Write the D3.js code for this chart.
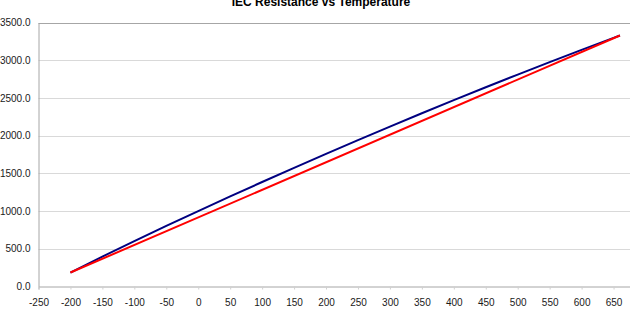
<!DOCTYPE html>
<html><head><meta charset="utf-8">
<script src="https://cdn.jsdelivr.net/npm/d3@7"></script>
<style>html,body{margin:0;padding:0;background:#fff;overflow:hidden}</style>
</head><body>
<svg id="c" width="630" height="324"></svg>
<script>
const title = "IEC Resistance vs Temperature";
const temps = [-200,-150,-100,-50,0,50,100,150,200,250,300,350,400,450,500,550,600,650,660];
const iecValues = [185.2,397.2,602.6,803.1,1000.0,1194.0,1385.1,1573.3,1758.6,1941.0,2120.5,2297.2,2470.9,2641.8,2809.8,2974.9,3137.1,3296.4,3327.9];
const linearTemps = [-200,660];
const linearValues = [185.2,3327.9];
const xTicks = [-250,-200,-150,-100,-50,0,50,100,150,200,250,300,350,400,450,500,550,600,650];
const yTicks = [0,500,1000,1500,2000,2500,3000,3500];

const svg = d3.select("#c");
const x = d3.scaleLinear().domain([-250,700]).range([38.5,645.5]);
const y = d3.scaleLinear().domain([0,3500]).range([286.5,22.5]);
const font = "Arial, 'Liberation Sans', sans-serif";

// gridlines
svg.append("g").selectAll("line").data(yTicks.filter(d=>d>0)).join("line")
  .attr("x1",x(-250)).attr("x2",x(700)).attr("y1",d=>Math.round(y(d))+0.5).attr("y2",d=>Math.round(y(d))+0.5)
  .attr("stroke",d=>d===3500?"#a6a6a6":"#d9d9d9").attr("stroke-width",1);

// y axis
const ya = svg.append("g").attr("transform",`translate(${x(-250)},0)`)
  .call(d3.axisLeft(y).tickValues(yTicks).tickFormat(d=>d.toFixed(1)).tickSize(0).tickPadding(8));
ya.select(".domain").attr("stroke","#a6a6a6");
ya.selectAll("text").attr("font-family",font).attr("font-size",10).attr("fill","#1a1a1a");

// x axis
const xa = svg.append("g").attr("transform",`translate(0,${y(0)})`)
  .call(d3.axisBottom(x).tickValues(xTicks).tickFormat(d=>String(d)).tickSize(3).tickPadding(9));
xa.select(".domain").attr("stroke","#a6a6a6");
xa.selectAll(".tick line").attr("stroke","#d0d0d0");
xa.selectAll("text").attr("font-family",font).attr("font-size",10).attr("fill","#1a1a1a");

const line = d3.line().x(d=>x(d[0])).y(d=>y(d[1]));
svg.append("path").datum(temps.map((t,i)=>[t,iecValues[i]]))
  .attr("d",line).attr("fill","none").attr("stroke","#000080").attr("stroke-width",2);
svg.append("path").datum(linearTemps.map((t,i)=>[t,linearValues[i]]))
  .attr("d",line).attr("fill","none").attr("stroke","#ff0000").attr("stroke-width",2);

svg.append("text").attr("x",321).attr("y",6).attr("text-anchor","middle")
  .attr("font-family",font).attr("font-size",12).attr("font-weight","bold").attr("fill","#000")
  .text(title);
</script>
</body></html>
